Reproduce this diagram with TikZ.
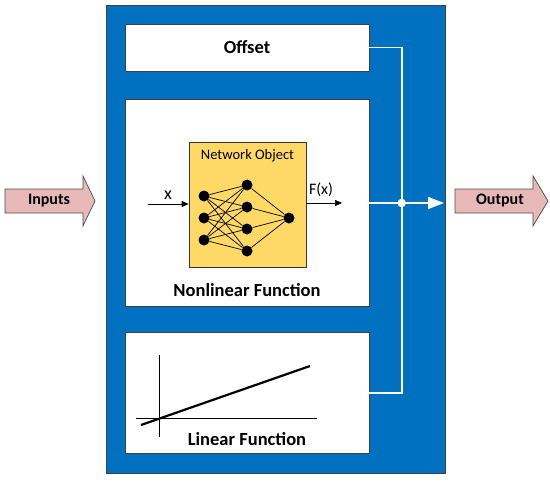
\documentclass[tikz,border=0pt]{standalone}
\usepackage{fontspec}
\setmainfont{Carlito}
\usetikzlibrary{arrows.meta}
\definecolor{bluebg}{HTML}{0070C0}
\definecolor{pinkfill}{HTML}{E6B9B8}
\definecolor{yellowfill}{HTML}{FFD966}
\definecolor{edgegray}{HTML}{404040}
\tikzset{
  whitebox/.style={draw=edgegray, line width=0.8pt, fill=white, inner sep=0pt},
  neuron/.style={circle, fill=black, minimum size=11pt, inner sep=0pt},
  syn/.style={black, line width=0.7pt},
  wire/.style={white, line width=1.8pt},
  bigarrow/.style={draw=black!70, line width=0.7pt, fill=pinkfill},
  lbl/.style={font=\bfseries\fontsize{18.5}{20}\selectfont, inner sep=0pt},
  iolbl/.style={font=\bfseries\fontsize{16}{18}\selectfont, inner sep=0pt}
}
\begin{document}
\begin{tikzpicture}[x=1pt,y=-1pt]
\useasboundingbox (0,0) rectangle (550,482);
% background block
\node[draw=edgegray, fill=bluebg, line width=0.6pt, minimum width=339pt, minimum height=468pt, inner sep=0pt] (main) at (275.5,239) {};
% inner boxes
\node[whitebox, minimum width=244pt, minimum height=47pt] (offset) at (247,47.5) {};
\node[lbl] (offsettxt) at (247,47.5) {Offset};
\node[whitebox, minimum width=244pt, minimum height=207pt] (nonlin) at (247,203) {};
\node[lbl] (nonlintxt) at (247,290) {Nonlinear Function};
\node[whitebox, minimum width=244pt, minimum height=121pt] (lin) at (247,393) {};
\node[lbl] (lintxt) at (247,439) {Linear Function};
% network object
\node[draw=black!80, line width=0.7pt, fill=yellowfill, minimum width=117pt, minimum height=125pt, inner sep=0pt] (net) at (247.5,204.5) {};
\node[font=\fontsize{14.5}{16}\selectfont, inner sep=0pt] (nettxt) at (247.5,156) {Network Object};
\foreach \i/\y in {1/196,2/218,3/240} {\node[neuron] (in\i) at (204,\y) {};}
\foreach \j/\y in {1/185,2/207,3/229,4/251} {\node[neuron] (h\j) at (247,\y) {};}
\node[neuron] (out) at (289,218) {};
\foreach \i in {1,2,3} {\foreach \j in {1,2,3,4} {\draw[syn] (in\i) -- (h\j);}}
\foreach \j in {1,2,3,4} {\draw[syn] (h\j) -- (out);}
% x and F(x)
\coordinate (xstart) at (148,204);
\draw[line width=0.7pt, -{Triangle[length=7pt,width=6pt]}] (xstart) -- (net.west |- xstart);
\node[font=\fontsize{18}{20}\selectfont, inner sep=0pt] (xlbl) at (168,195) {x};
\coordinate (fend) at (342,203);
\draw[line width=0.7pt, -{Triangle[length=7pt,width=6pt]}] (net.east |- fend) -- (fend);
\node[font=\fontsize{16}{18}\selectfont, inner sep=0pt] (flbl) at (321,190) {F(x)};
% linear plot
\coordinate (va) at (159,355);
\coordinate (vb) at (159,437);
\coordinate (ha) at (136,418);
\coordinate (hb) at (317,418);
\coordinate (la) at (141,425);
\coordinate (lb) at (310,366);
\draw[line width=0.6pt] (va) -- (vb);
\draw[line width=0.6pt] (ha) -- (hb);
\draw[line width=2.2pt] (la) -- (lb);
% white wires
\coordinate (bus) at (401.7,203);
\coordinate (outtip) at (444,203);
\draw[wire] (offset.east) -- (offset.east -| bus) -- (lin.east -| bus) -- (lin.east);
\draw[wire] (nonlin.east) -- (bus);
\draw[wire, -{Triangle[length=16pt,width=12pt]}] (bus) -- (outtip);
\fill[white] (bus) circle (4.3pt);
% input / output arrows
\draw[bigarrow] (5,189) -- (83,189) -- (83,176) -- (95,201) -- (83,226) -- (83,213) -- (5,213) -- cycle;
\node[iolbl] (inputs) at (49,201) {Inputs};
\draw[bigarrow] (455,189) -- (533,189) -- (533,176) -- (548,201) -- (533,226) -- (533,213) -- (455,213) -- cycle;
\node[iolbl] (output) at (500,201) {Output};
\end{tikzpicture}
\end{document}
